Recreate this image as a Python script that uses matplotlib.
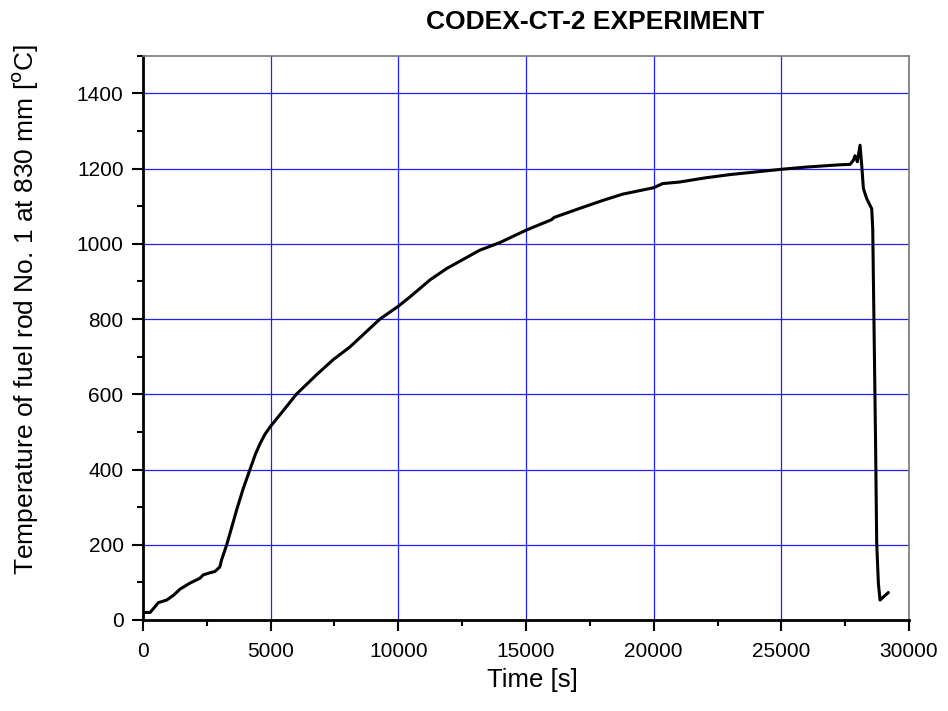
import matplotlib
matplotlib.use("Agg")
import matplotlib.pyplot as plt
from matplotlib.ticker import MultipleLocator

# time [s] and temperature [C]
time_s = [0, 280, 430, 600, 930, 1200, 1450, 1840, 2230, 2360, 2600, 2820, 3010,
          3080, 3280, 3470, 3670, 3930, 4190, 4400, 4580, 4780, 5000, 5370, 6020,
          6800, 7450, 8110, 9280, 10000, 10460, 11240, 11890, 13190, 13970,
          15000, 16000, 16100, 17100, 18000, 18790, 20000, 20350, 21000, 22000,
          23000, 24000, 25000, 26000, 27300, 27690, 27820, 27885, 27977, 28082,
          28147, 28212, 28343, 28539, 28578, 28626, 28690, 28734, 28800, 28864,
          29190]
temp_c = [20, 20, 32, 46, 53, 66, 82, 98, 111, 120, 125, 129, 141,
          160, 200, 245, 293, 350, 400, 440, 468, 494, 515, 546, 601,
          652, 692, 726, 800, 834, 859, 904, 934, 983, 1003,
          1036, 1064, 1070, 1094, 1115, 1132, 1149, 1160, 1164, 1175,
          1184, 1191, 1198, 1204, 1210, 1211, 1222, 1234, 1218, 1262,
          1209, 1147, 1120, 1093, 1040, 796, 468, 204, 97, 53,
          73]

x_ticks = [0, 5000, 10000, 15000, 20000, 25000, 30000]
y_ticks = [0, 200, 400, 600, 800, 1000, 1200, 1400]


def main():
    plt.rcParams['font.family'] = ['Liberation Sans', 'DejaVu Sans']
    fig = plt.figure(figsize=(9.48, 7.11), dpi=100)
    ax = fig.add_axes([0.1508, 0.128, 0.8081, 0.7937])

    ax.plot(time_s, temp_c, color='black', lw=2.2, solid_joinstyle='round',
            solid_capstyle='round', zorder=3)

    ax.set_xlim(0, 30000)
    ax.set_ylim(0, 1500)
    ax.set_xticks(x_ticks)
    ax.set_yticks(y_ticks)
    ax.xaxis.set_minor_locator(MultipleLocator(2500))
    ax.yaxis.set_minor_locator(MultipleLocator(100))
    ax.grid(True, which='major', color='#2020ff', lw=0.9)

    for side in ['left', 'bottom']:
        ax.spines[side].set_linewidth(2.0)
        ax.spines[side].set_color('black')
    for side in ['top', 'right']:
        ax.spines[side].set_linewidth(1.2)
        ax.spines[side].set_color('#777777')

    ax.tick_params(which='major', direction='out', length=8, width=1.5, labelsize=15)
    ax.tick_params(axis='y', which='major', pad=6)
    ax.tick_params(axis='x', which='major', pad=8)
    ax.tick_params(which='minor', direction='out', length=4.5, width=1.5)

    ax.set_xlabel('Time [s]', fontsize=18.5, va='center')
    ax.xaxis.set_label_coords(0.509, -0.106)
    ax.set_ylabel('Temperature of fuel rod No. 1 at 830 mm [$^{\\rm o}$C]',
                  fontsize=19, va='center')
    ax.yaxis.set_label_coords(-0.154, 0.55)
    fig.text(0.628, 0.969, 'CODEX-CT-2 EXPERIMENT', ha='center', va='center',
             fontsize=19, fontweight='bold')

    fig.savefig('out.png', dpi=100)


if __name__ == "__main__":
    main()
